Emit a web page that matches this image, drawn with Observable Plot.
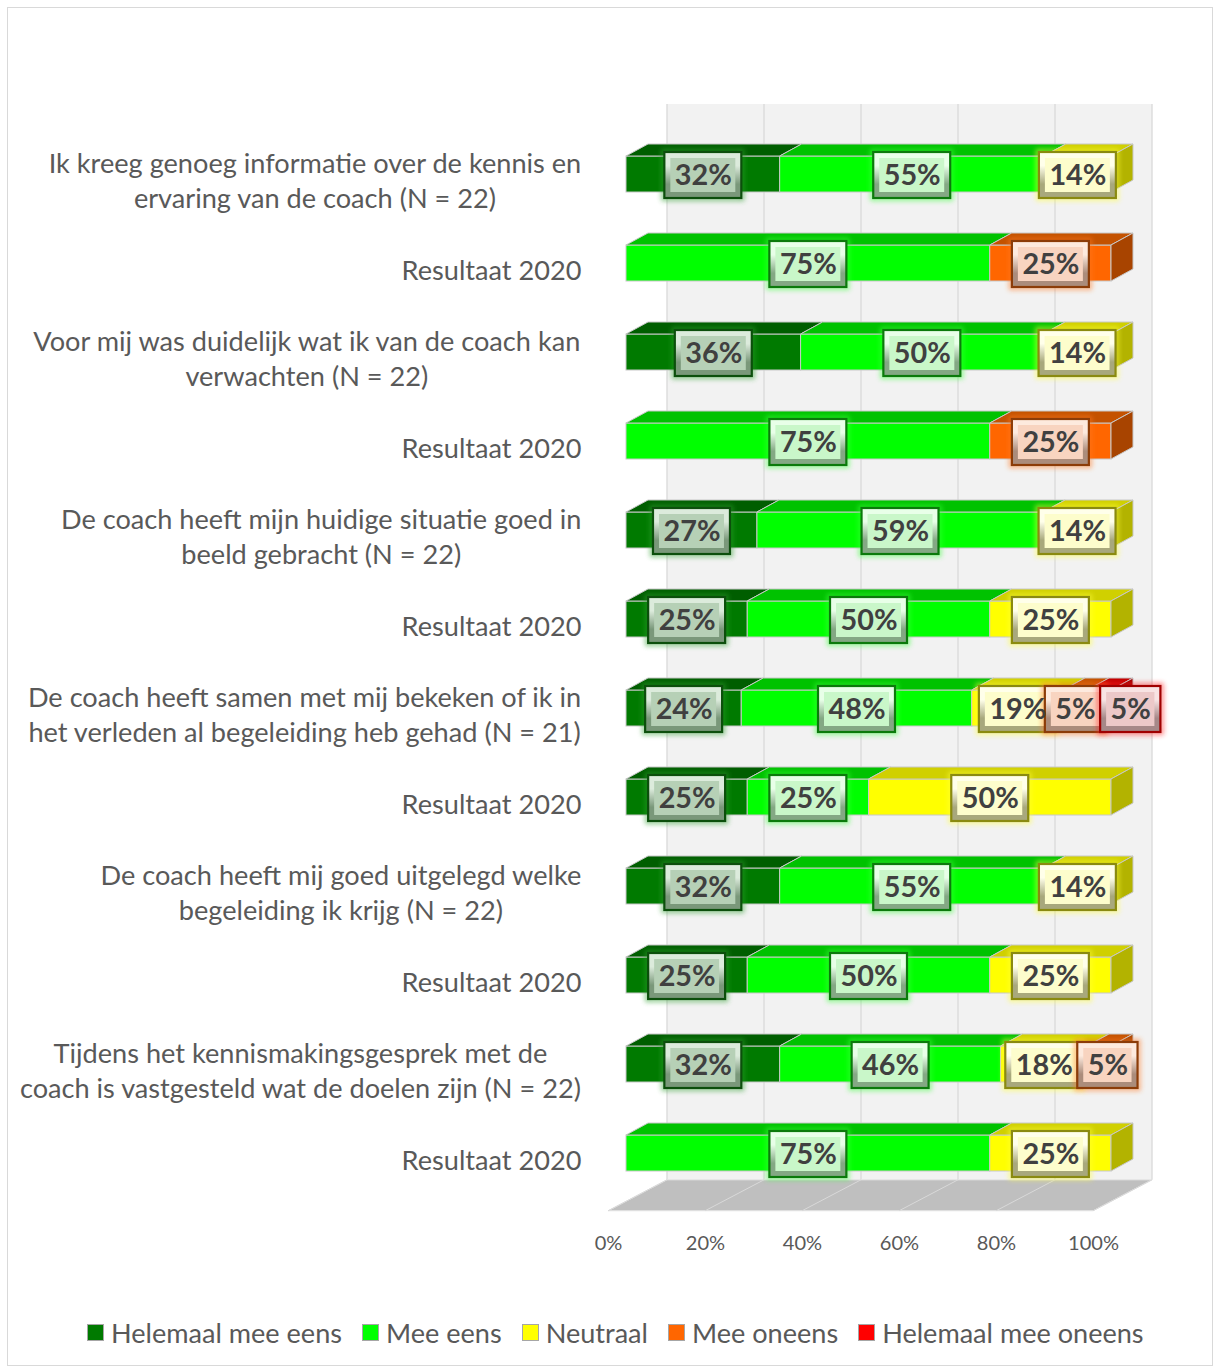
<!DOCTYPE html>
<html><head><meta charset="utf-8">
<script src="https://cdn.jsdelivr.net/npm/d3@7"></script>
<script src="https://cdn.jsdelivr.net/npm/@observablehq/plot@0.6"></script>
<style>
body{margin:0;background:#fff;font-family:Lato,sans-serif;}
#chart{position:absolute;left:0;top:0}
#frame{position:absolute;left:7px;top:7px;width:1206px;height:1359px;border:1px solid #d9d9d9;box-sizing:border-box;pointer-events:none}
#legend{position:absolute;left:87px;top:1317px;height:30px;display:flex;align-items:center;color:#595959;white-space:nowrap}
.item{display:flex;align-items:center;margin-right:20px}
.sw{width:15px;height:15px;border:1px solid #a6a6a6;margin-right:7px;box-sizing:content-box}
</style></head><body>
<div id="chart"></div><div id="legend"></div><div id="frame"></div>
<script>
// ---------- data ----------
const categories = ["Helemaal mee eens", "Mee eens", "Neutraal", "Mee oneens", "Helemaal mee oneens"];
const rowLabels = [
  "Ik kreeg genoeg informatie over de kennis en\nervaring van de coach (N = 22)",
  "Resultaat 2020",
  "Voor mij was duidelijk wat ik van de coach kan\nverwachten (N = 22)",
  "Resultaat 2020",
  "De coach heeft mijn huidige situatie goed in\nbeeld gebracht (N = 22)",
  "Resultaat 2020",
  "De coach heeft samen met mij bekeken of ik in\nhet verleden al begeleiding heb gehad (N = 21)",
  "Resultaat 2020",
  "De coach heeft mij goed uitgelegd welke\nbegeleiding ik krijg (N = 22)",
  "Resultaat 2020",
  "Tijdens het kennismakingsgesprek met de\ncoach is vastgesteld wat de doelen zijn (N = 22)",
  "Resultaat 2020"
];
const helemaalMeeEens   = [32,  0, 36,  0, 27, 25, 24, 25, 32, 25, 32,  0];
const meeEens           = [55, 75, 50, 75, 59, 50, 48, 25, 55, 50, 46, 75];
const neutraal          = [14,  0, 14,  0, 14, 25, 19, 50, 14, 25, 18, 25];
const meeOneens         = [ 0, 25,  0, 25,  0,  0,  5,  0,  0,  0,  5,  0];
const helemaalMeeOneens = [ 0,  0,  0,  0,  0,  0,  5,  0,  0,  0,  0,  0];
const xTicks = [0, 0.2, 0.4, 0.6, 0.8, 1];

// ---------- styles ----------
const frontC  = ["#007a00", "#00ff00", "#ffff00", "#ff6600", "#ff0000"];
const topC    = ["#005e00", "#00c200", "#d0d000", "#c45200", "#c40000"];
const sideC   = ["#004c00", "#00a000", "#b3b300", "#a84400", "#a00000"];
const boxFace = ["#b6d0b6", "#c9f7c9", "#fdfdcc", "#f8d4c0", "#ecc8c8"];
const boxLite = ["#dcebdc", "#e8ffe8", "#ffffea", "#fdeade", "#f8e3e3"];
const boxDark = ["#7a987a", "#84a884", "#a8a87c", "#ab8c7b", "#a68888"];
const boxLine = ["#0c4f0c", "#0b7a0b", "#8a8a10", "#8c3c08", "#a00000"];
const glowC   = ["#30a030", "#40ff40", "#ffff40", "#ff7a26", "#ff2020"];

const W = 1213, H = 1300;
const xRange = [626, 1111];
const yRange = [125.5, 1201.3];
const barD = [22, -12];     // depth of the bars
const floorOff = [-18, 9.5]; // floor front edge relative to bar front
const wallOff = [41, -21.5]; // back wall relative to bar front

const ctx = document.createElement("canvas").getContext("2d");
function tw(t, font) { ctx.font = font; return ctx.measureText(t).width; }
const FONT = "Lato";
const catSize = 25 * 180 / tw("Resultaat 2020", `25px ${FONT}`);
const valSize = 27 * 57 / tw("32%", `bold 27px ${FONT}`);
const tickSize = 20 * 51 / tw("100%", `20px ${FONT}`);
const legSize = 24 * 231 / tw("Helemaal mee eens", `24px ${FONT}`);

// ---------- stacked segments ----------
const series = [helemaalMeeEens, meeEens, neutraal, meeOneens, helemaalMeeOneens];
const segs = [];
rowLabels.forEach((lab, i) => {
  const total = d3.sum(series, s => s[i]);
  let acc = 0;
  const rowSegs = [];
  series.forEach((s, k) => {
    const v = s[i];
    if (v > 0) rowSegs.push({row: i, k, cat: categories[k], value: v, x1: acc / total, x2: (acc + v) / total, text: v + "%"});
    acc += v;
  });
  rowSegs[rowSegs.length - 1].last = true;
  segs.push(...rowSegs);
});

// label boxes: width from text, nudge when overlapping a lot
function boxLayout(x) {
  const out = [];
  let prev = null;
  for (const s of segs) {
    const w = tw(s.text, `bold ${valSize}px ${FONT}`) + 20;
    let cx = x((s.x1 + s.x2) / 2);
    if (prev && prev.row === s.row) {
      const overlap = (prev.cx + prev.w / 2) - (cx - w / 2);
      if (overlap > 12) cx += overlap - 5;
    }
    const b = {s, row: s.row, cx, w};
    out.push(b); prev = b;
  }
  return out;
}

function backdrop(index, {x, y}) {
  const [r0, r1] = y.range();
  const g = d3.create("svg:g");
  const wl = x(0) + wallOff[0], wr = x(1) + wallOff[0];
  const wt = r0 + wallOff[1], wb = r1 + wallOff[1];
  g.append("rect").attr("x", wl).attr("y", wt).attr("width", wr - wl).attr("height", wb - wt).attr("fill", "#f2f2f2");
  for (const t of xTicks) {
    g.append("line").attr("x1", x(t) + wallOff[0]).attr("x2", x(t) + wallOff[0]).attr("y1", wt).attr("y2", wb)
      .attr("stroke", "#d9d9d9").attr("stroke-width", 1.3);
  }
  const fy = r1 + floorOff[1];
  g.append("path").attr("d", `M${x(0) + floorOff[0]},${fy}L${x(1) + floorOff[0]},${fy}L${wr},${wb}L${wl},${wb}Z`)
    .attr("fill", "#bfbfbf").attr("stroke", "#e6e6e6").attr("stroke-width", 1);
  for (const t of xTicks) {
    g.append("line").attr("x1", x(t) + floorOff[0]).attr("y1", fy).attr("x2", x(t) + wallOff[0]).attr("y2", wb)
      .attr("stroke", "#d9d9d9").attr("stroke-width", 1);
  }
  return g.node();
}

function faces(index, {x, y}) {
  const bw = y.bandwidth();
  const g = d3.create("svg:g");
  for (const s of segs) {
    const X1 = x(s.x1), X2 = x(s.x2), Yt = y(s.row), Yb = Yt + bw;
    g.append("path").attr("d", `M${X1},${Yt}L${X2},${Yt}L${X2 + barD[0]},${Yt + barD[1]}L${X1 + barD[0]},${Yt + barD[1]}Z`)
      .attr("fill", topC[s.k]).attr("stroke", "#c8c8c8").attr("stroke-width", 1).attr("stroke-linejoin", "round");
    if (s.last) {
      g.append("path").attr("d", `M${X2},${Yt}L${X2 + barD[0]},${Yt + barD[1]}L${X2 + barD[0]},${Yb + barD[1]}L${X2},${Yb}Z`)
        .attr("fill", sideC[s.k]).attr("stroke", "#c8c8c8").attr("stroke-width", 1).attr("stroke-linejoin", "round");
    }
  }
  return g.node();
}

function boxes(index, {x, y}) {
  const bw = y.bandwidth();
  const g = d3.create("svg:g");
  const defs = g.append("defs");
  defs.append("filter").attr("id", "glow").attr("x", "-30%").attr("y", "-30%").attr("width", "160%").attr("height", "160%")
    .append("feGaussianBlur").attr("stdDeviation", 2.6);
  categories.forEach((c, k) => {
    const lg = defs.append("linearGradient").attr("id", "bev" + k).attr("x1", 0).attr("y1", 0).attr("x2", 0).attr("y2", 1);
    lg.append("stop").attr("offset", "0%").attr("stop-color", boxLite[k]);
    lg.append("stop").attr("offset", "30%").attr("stop-color", boxLite[k]);
    lg.append("stop").attr("offset", "70%").attr("stop-color", boxDark[k]);
    lg.append("stop").attr("offset", "100%").attr("stop-color", boxDark[k]);
  });
  const h = 46;
  for (const b of boxLayout(x)) {
    const k = b.s.k, cy = y(b.row) + bw / 2 + 1;
    const x0 = b.cx - b.w / 2, y0 = cy - h / 2;
    g.append("rect").attr("x", x0 - 1).attr("y", y0 - 1).attr("width", b.w + 2).attr("height", h + 2)
      .attr("fill", "none").attr("stroke", glowC[k]).attr("stroke-width", 4).attr("opacity", 0.6).attr("filter", "url(#glow)");
    g.append("rect").attr("x", x0).attr("y", y0).attr("width", b.w).attr("height", h)
      .attr("fill", `url(#bev${k})`);
    g.append("rect").attr("x", x0 + 6).attr("y", y0 + 6).attr("width", b.w - 12).attr("height", h - 12)
      .attr("fill", boxFace[k]);
    g.append("rect").attr("x", x0).attr("y", y0).attr("width", b.w).attr("height", h)
      .attr("fill", "none").attr("stroke", boxLine[k]).attr("stroke-width", 2.2);
  }
  return g.node();
}

// label text positions reuse the same layout through the x scale
const xs = d3.scaleLinear([0, 1], xRange);
const labelPos = new Map(boxLayout(xs).map(b => [b.s, xs.invert(b.cx)]));

const catMarks = rowLabels.map((lab, i) => {
  const w = d3.max(lab.split("\n"), l => tw(l, `${catSize}px ${FONT}`));
  return Plot.text([i], {
    y: d => d, text: () => lab, frameAnchor: "left", textAnchor: "middle",
    dx: -45 - w / 2, dy: 5, fontSize: catSize, lineHeight: 35 / catSize,
    fill: "#595959", fontFamily: FONT
  });
});

const chart = Plot.plot({
  width: W, height: H,
  marginLeft: xRange[0], marginRight: W - xRange[1], marginTop: 0, marginBottom: H - 1243,
  style: {background: "transparent", fontFamily: FONT, overflow: "visible"},
  x: {domain: [0, 1], range: xRange, axis: null},
  y: {domain: d3.range(rowLabels.length), range: yRange, paddingInner: 0.598, paddingOuter: 0.299, axis: null},
  color: {domain: categories, range: frontC},
  marks: [
    backdrop,
    Plot.barX(segs, {x1: "x1", x2: "x2", y: "row", fill: "cat", stroke: "#c8c8c8", strokeWidth: 1}),
    faces,
    boxes,
    Plot.text(segs, {x: d => labelPos.get(d), y: "row", text: "text", fontWeight: "bold", fontSize: valSize,
      fill: "#404040", fontFamily: FONT, dy: 1}),
    ...catMarks,
    Plot.text(xTicks, {x: d => d, text: d => Math.round(d * 100) + "%", frameAnchor: "bottom", lineAnchor: "middle", dx: -18,
      fontSize: tickSize, fill: "#595959", fontFamily: FONT})
  ]
});
document.getElementById("chart").appendChild(chart);

// legend
const leg = d3.select("#legend").style("font-size", legSize + "px");
categories.forEach((c, k) => {
  const it = leg.append("div").attr("class", "item");
  it.append("div").attr("class", "sw").style("background", frontC[k]);
  it.append("span").text(c);
});
</script>
</body></html>
